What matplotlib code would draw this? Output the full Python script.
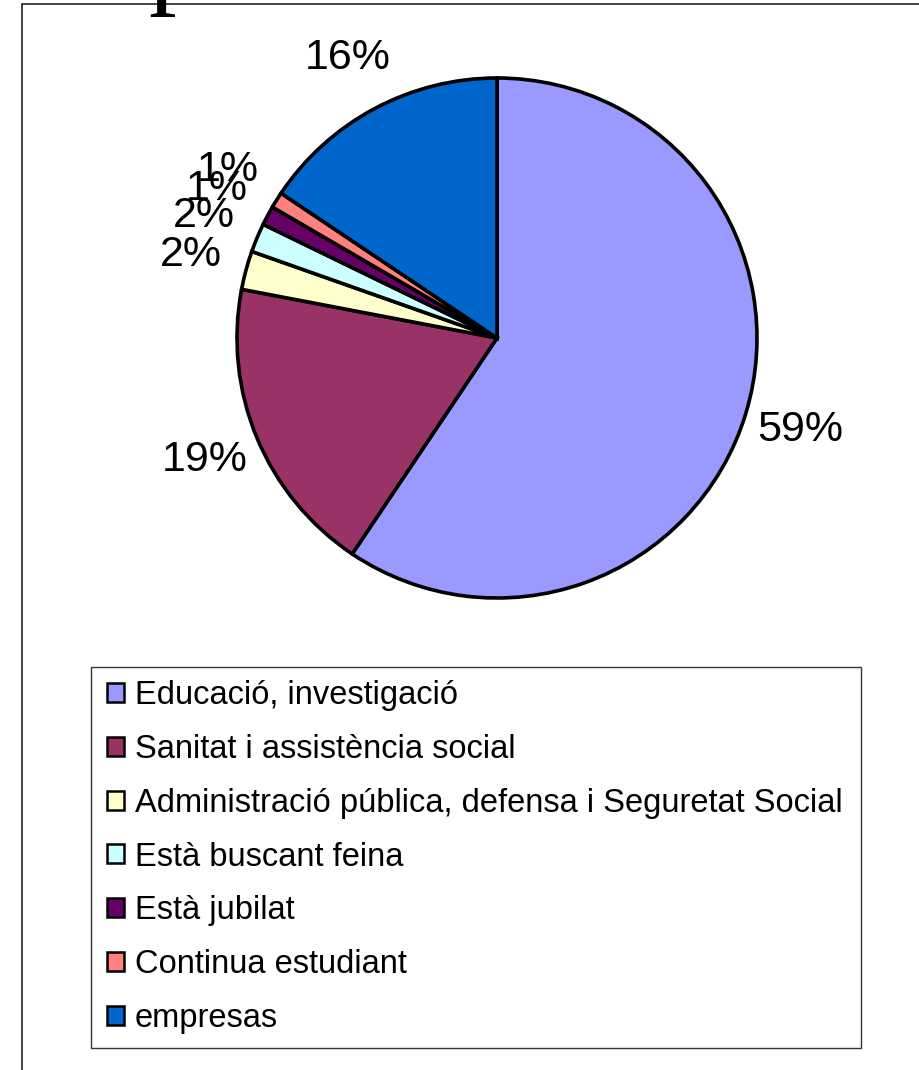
import matplotlib
matplotlib.use('Agg')
import matplotlib.pyplot as plt
from matplotlib.patches import Patch, Rectangle

plt.rcParams['font.family'] = ['Liberation Sans', 'DejaVu Sans']

labels = ['Educació, investigació',
          'Sanitat i assistència social',
          'Administració pública, defensa i Seguretat Social',
          'Està buscant feina',
          'Està jubilat',
          'Continua estudiant',
          'empresas']
values = [59.4, 18.6, 2.4, 1.8, 1.2, 1.0, 15.6]
colors = ['#9999FF', '#993366', '#FFFFCC', '#CCFFFF', '#660066', '#FF8080', '#0066CC']

W, H = 919, 1070
fig = plt.figure(figsize=(W / 100, H / 100), dpi=100)

# pie: centre (497, 338) px, radius 260 px
lim = 1.3
side = 2 * lim * 260
ax = fig.add_axes([(497 - side / 2) / W, (H - 338 - side / 2) / H, side / W, side / H])
wedges, texts, autotexts = ax.pie(values, colors=colors, startangle=90, counterclock=False,
                                  autopct='%.0f%%', pctdistance=1.22,
                                  wedgeprops=dict(edgecolor='black', linewidth=2.6),
                                  textprops=dict(fontsize=31, color='black'))
ax.set_xlim(-lim, lim)
ax.set_ylim(-lim, lim)
ax.set_aspect('equal')
ax.axis('off')

# outer frame (only top and left visible)
fig.add_artist(Rectangle((21.5 / W, -0.1), 1.0, 1.1 - 4.5 / H, transform=fig.transFigure,
                         fill=False, edgecolor='#222222', linewidth=1.2))

# cut-off glyph from the page above
fig.text(148 / W, 1 + 6 / H, 'p', fontsize=80, family='Liberation Serif',
         ha='left', va='baseline', color='black')

# legend box
fig.add_artist(Rectangle((91 / W, (H - 1048) / H), 770 / W, 381 / H, transform=fig.transFigure,
                         fill=False, edgecolor='#333333', linewidth=1.0))
handles = [Patch(facecolor=c, edgecolor='black', linewidth=1.8) for c in colors]
fig.legend(handles, labels, loc='upper left', bbox_to_anchor=(107 / W, 1 - 680 / H),
           frameon=False, fontsize=23.5, handlelength=0.52, handleheight=0.52,
           handletextpad=0.34, labelspacing=0.70, borderpad=0, borderaxespad=0)

fig.savefig('out.png', dpi=100)
